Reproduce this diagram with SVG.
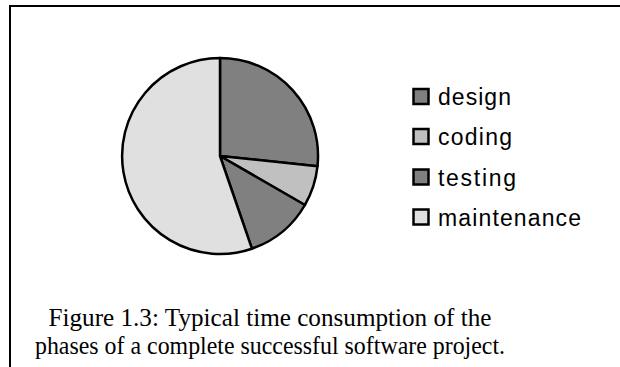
<svg xmlns="http://www.w3.org/2000/svg" width="620" height="367" viewBox="0 0 620 367">
<style>
.slice{stroke:#000;stroke-width:2.5;stroke-linejoin:round}
.key{stroke:#000;stroke-width:2.5}
.lbl{font-family:"Liberation Sans",Arial,sans-serif;font-size:23px;fill:#000}
.cap{font-family:"Liberation Serif","Times New Roman",serif;font-size:26px;fill:#000;text-anchor:middle}
.dark{fill:#808080}
.mid{fill:#c0c0c0}
.light{fill:#e0e0e0}
</style>
<rect x="10" y="6" width="640" height="400" fill="#fff" stroke="#000" stroke-width="2"/>
<g id="pie">
<path id="slice-design" class="slice dark" d="M220,156 L220,58 A98,98 0 0 1 317.5,166.2 Z"/>
<path id="slice-coding" class="slice mid" d="M220,156 L317.5,166.2 A98,98 0 0 1 304.9,205 Z"/>
<path id="slice-testing" class="slice dark" d="M220,156 L304.9,205 A98,98 0 0 1 251.9,248.7 Z"/>
<path id="slice-maintenance" class="slice light" d="M220,156 L251.9,248.7 A98,98 0 1 1 220,58 Z"/>
</g>
<g id="legend">
<g id="legend-design"><rect class="key dark" x="413.5" y="89" width="15" height="15"/><text class="lbl" x="438" y="105" textLength="73" lengthAdjust="spacing">design</text></g>
<g id="legend-coding"><rect class="key mid" x="413.5" y="129" width="15" height="15"/><text class="lbl" x="438" y="145" textLength="74" lengthAdjust="spacing">coding</text></g>
<g id="legend-testing"><rect class="key dark" x="413.5" y="169.5" width="15" height="15"/><text class="lbl" x="438" y="185.5" textLength="78" lengthAdjust="spacing">testing</text></g>
<g id="legend-maintenance"><rect class="key light" x="413.5" y="209.5" width="15" height="15"/><text class="lbl" x="438" y="225.5" textLength="143" lengthAdjust="spacing">maintenance</text></g>
</g>
<g id="caption">
<text class="cap" x="270" y="326" textLength="443" lengthAdjust="spacingAndGlyphs">Figure 1.3: Typical time consumption of the</text>
<text class="cap" x="270" y="354" textLength="470" lengthAdjust="spacingAndGlyphs">phases of a complete successful software project.</text>
</g>
</svg>
